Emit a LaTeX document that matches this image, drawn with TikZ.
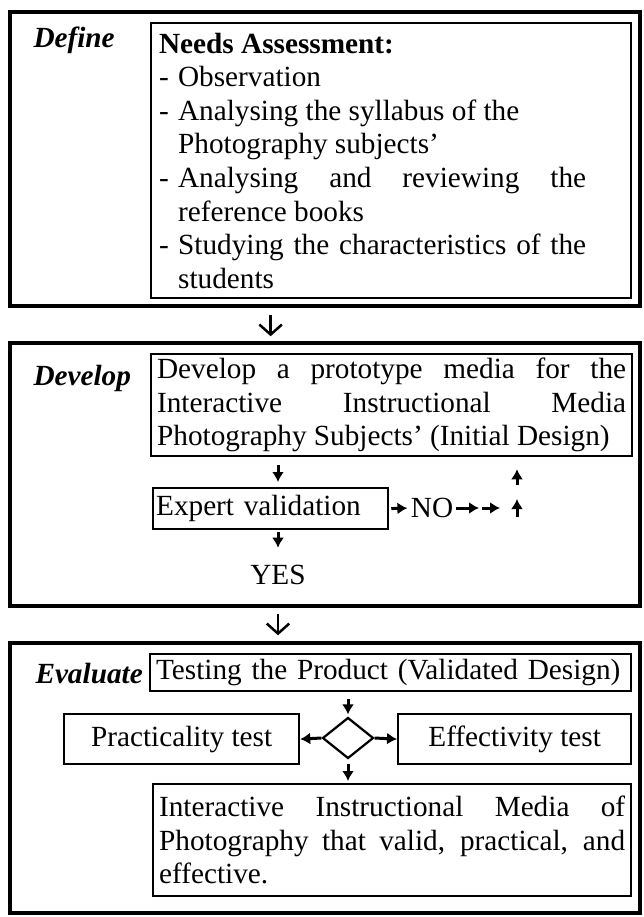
\documentclass[tikz,border=0pt]{standalone}
\usepackage{fontspec}
\setmainfont{Liberation Serif}
\usetikzlibrary{shapes.geometric, arrows.meta}
\setlength{\parindent}{0pt}
\newcommand{\basefont}{\fontsize{11.7pt}{13.44pt}\selectfont}
\newcommand{\needsitem}{\par\hangindent=7.6pt\hangafter=1\makebox[7.6pt][l]{-}}
\tikzstyle{stageframe} = [rectangle, draw=black, line width=1.4pt, minimum width=252pt, inner sep=0pt]
\tikzstyle{stage} = [font=\basefont\bfseries\itshape, inner sep=0pt, anchor=west]
\tikzstyle{textbox} = [rectangle, draw=black, line width=0.9pt, anchor=north west, inner ysep=0pt, inner xsep=2.4pt, align=justify]
\tikzstyle{testbox} = [rectangle, draw=black, line width=0.9pt, anchor=north west, minimum height=20pt, inner sep=0pt, text centered]
\tikzstyle{decision} = [diamond, draw=black, line width=0.9pt, minimum width=20.4pt, minimum height=16.4pt, inner sep=0pt]
\tikzstyle{arrow} = [line width=1.2pt, -{Latex[length=4pt,width=4.8pt]}]
\tikzstyle{openarrow} = [line width=1pt, -{Straight Barb[length=4pt,width=9pt]}]

\begin{document}
\begin{tikzpicture}[x=0.4pt, y=-0.4pt, font=\basefont]
\useasboundingbox (0,0) rectangle (643,917);
	\node (deffr) [stageframe, minimum height=117.6pt] at (325,159) {};
	\node (devfr) [stageframe, minimum height=105.2pt] at (325,474.5) {};
	\node (evafr) [stageframe, minimum height=108pt] at (325,778) {};
	\node (deflabel) [stage] at (33,40) {Define};
	\node (devlabel) [stage] at (33,378) {Develop};
	\node (evalabel) [stage] at (35,674) {Evaluate};
	\node (needs) [textbox, inner xsep=3.2pt, text width=185.6pt, minimum height=110pt] at (150,22)
	{\rightskip=14.8pt\textbf{Needs Assessment:}
	\needsitem Observation
	\needsitem Analysing the syllabus of the\newline Photography subjects'
	\needsitem Analysing and reviewing the\linebreak reference books
	\needsitem Studying the characteristics of the\linebreak students\par};
	\node (proto) [textbox, text width=187.6pt, minimum height=40.8pt] at (150,353)
	{Develop a prototype media for the\linebreak Interactive Instructional Media\linebreak Photography Subjects' (Initial Design)};
	\node (expert) [textbox, inner xsep=1.2pt, text width=91.6pt, minimum height=16.4pt, align=left] at (152,487) {Expert validation};
	\node (no) [inner sep=0pt] at (432,508) {NO};
	\node (yes) [inner sep=0pt] at (278,575) {YES};
	\coordinate (hop1) at (479,508);
	\coordinate (hop2) at (500,508);
	\coordinate (rise1) at (517,517);
	\coordinate (rise2) at (517,499);
	\node (testing) [textbox, text width=187.6pt, minimum height=14.8pt, align=left] at (149,653) {Testing the Product (Validated Design)};
	\node (choice) [decision] at (348,738) {};
	\node (pract) [testbox, minimum width=94pt] at (63,713) {Practicality test};
	\node (effect) [testbox, minimum width=93.2pt] at (397,713) {Effectivity test};
	\node (final) [textbox, text width=186.4pt, minimum height=44.8pt] at (152,783)
	{Interactive Instructional Media of\linebreak Photography that valid, practical, and\linebreak effective.};
\draw [openarrow, shorten <=2.8pt, shorten >=2pt] (deffr.south -| expert) -- (devfr.north -| expert);
\draw [openarrow, shorten <=2.4pt, shorten >=2.4pt] (devfr.south -| yes) -- (evafr.north -| yes);
\draw [arrow, shorten <=3.2pt, shorten >=2pt] (proto.south -| yes) -- (expert.north -| yes);
\draw [arrow, shorten <=0.8pt, shorten >=6.8pt] (expert.south -| yes) -- (yes);
\draw [arrow, shorten <=0.8pt, shorten >=1.2pt] (expert.east) -- (no.west);
\draw [arrow, shorten <=0.8pt] (no.east) -- (hop1);
\draw [arrow, shorten <=1.2pt] (hop1) -- (hop2);
\draw [arrow] (rise1) -- (rise2);
\draw [arrow, shorten <=5.6pt, shorten >=4.8pt] (rise2) -- (proto.south -| rise2);
\draw [arrow, shorten <=2.8pt, shorten >=0.8pt] (testing.south -| choice) -- (choice.north);
\draw [arrow] (choice.west) -- (pract.east);
\draw [arrow] (choice.east) -- (effect.west);
\draw [arrow, shorten <=1.6pt, shorten >=0.8pt] (choice.south) -- (final.north -| choice);
\end{tikzpicture}
\end{document}
